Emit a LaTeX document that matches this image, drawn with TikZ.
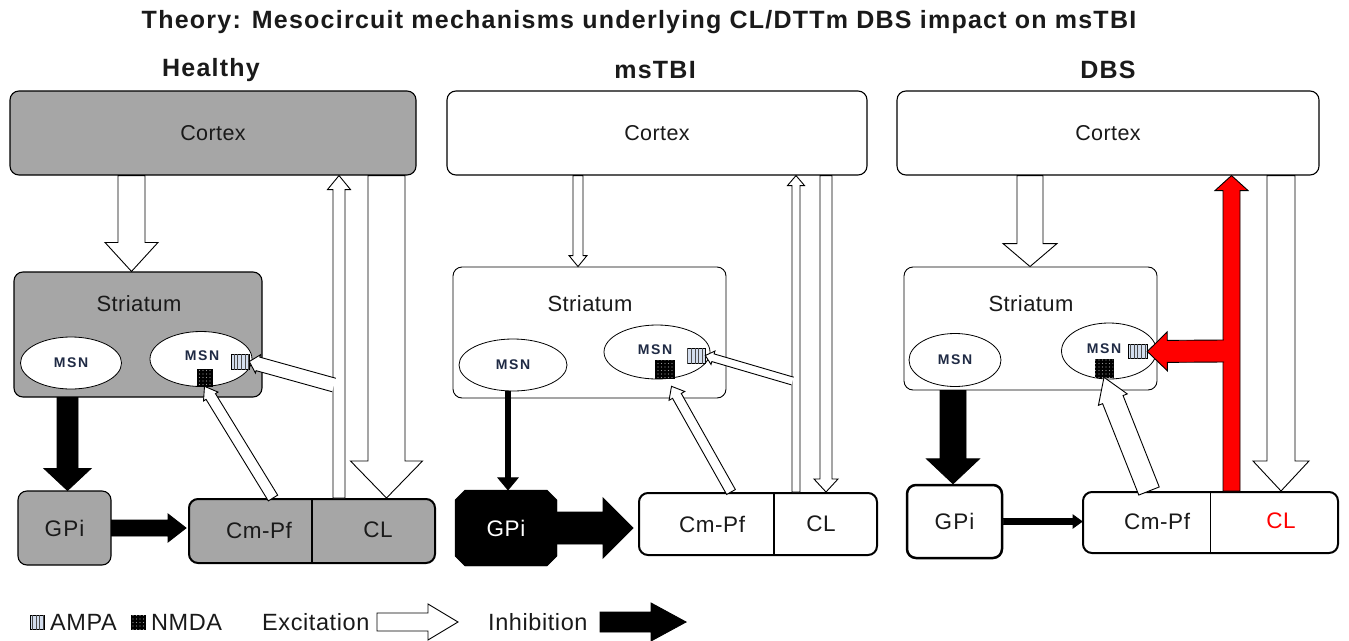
\documentclass[tikz,border=0pt]{standalone}
\usepackage{fontspec}
\setmainfont{Liberation Sans}
\usetikzlibrary{calc,shapes.geometric,shapes.misc,patterns.meta}
\newcommand\fsz[1]{\fontsize{#1}{#1}\selectfont}
\newcommand\lsp[1]{\addfontfeature{LetterSpace=#1}}
\definecolor{boxgray}{HTML}{A6A6A6}
\definecolor{txt}{HTML}{1A1A1A}
\definecolor{msnc}{HTML}{1F2A44}
\definecolor{ampac}{HTML}{D4DEEE}
% block arrow: [style]{from}{to}{shaft half width}{head half width}{head length}
\newcommand\barrow[6][]{%
  \coordinate (ba-A) at (#2);
  \coordinate (ba-B) at (#3);
  \coordinate (ba-H) at ($(ba-B)!#6!(ba-A)$);
  \draw[#1] ($(ba-A)!#4!90:(ba-B)$) -- ($(ba-H)!#4!-90:(ba-A)$) -- ($(ba-H)!#5!-90:(ba-A)$) -- (ba-B) -- ($(ba-H)!#5!90:(ba-A)$) -- ($(ba-H)!#4!90:(ba-A)$) -- ($(ba-A)!#4!-90:(ba-B)$) -- cycle;}
% same, open at its base (for branches)
\newcommand\obarrow[6][]{%
  \coordinate (ba-A) at (#2);
  \coordinate (ba-B) at (#3);
  \coordinate (ba-H) at ($(ba-B)!#6!(ba-A)$);
  \draw[#1] ($(ba-A)!#4!90:(ba-B)$) -- ($(ba-H)!#4!-90:(ba-A)$) -- ($(ba-H)!#5!-90:(ba-A)$) -- (ba-B) -- ($(ba-H)!#5!90:(ba-A)$) -- ($(ba-H)!#4!90:(ba-A)$) -- ($(ba-A)!#4!-90:(ba-B)$);}
\tikzset{
  box/.style={draw=black, rounded corners=9pt, line width=1.1pt, text=txt, font=\fsz{21.5}\lsp{2}},
  gbox/.style={box, fill=boxgray},
  wbox/.style={box, fill=white},
  thal/.style={line width=2pt},
  lbl/.style={text=txt, font=\fsz{22.5}\lsp{2.5}},
  ttl/.style={text=txt, font=\bfseries\fsz{25}\lsp{5}},
  leg/.style={text=txt, font=\fsz{23.5}\lsp{2.5}, inner sep=0pt},
  msn/.style={ellipse, draw=black, fill=white, line width=0.8pt, inner sep=0pt, text=msnc, font=\bfseries\fsz{14}\lsp{12}},
  msntxt/.style={text=msnc, font=\bfseries\fsz{14}\lsp{12}, inner sep=0pt},
  ampa/.style={draw=black, line width=0.6pt, fill=ampac, inner sep=0pt,
    postaction={pattern={Lines[angle=90,distance=3.6pt,line width=0.6pt]}, pattern color=black!70}},
  nmda/.style={draw=black, line width=0.6pt, fill=black, inner sep=0pt,
    postaction={pattern={Dots[radius=0.7pt,distance=3.5pt]}, pattern color=gray!80}},
  exc/.style={draw=black, fill=white, line width=0.9pt},
  inh/.style={draw=black, fill=black, line width=0.9pt},
  redarr/.style={draw=black, fill=red, line width=0.9pt},
}
\begin{document}
\begin{tikzpicture}[x=1pt,y=-1pt]
\useasboundingbox (0,0) rectangle (1349,640);
\fill[white] (0,0) rectangle (1349,640);

% titles
\node[ttl] (title) at (639,22) {Theory: Mesocircuit mechanisms underlying CL/DTTm DBS impact on msTBI};
\node[ttl] (tH) at (211,70) {Healthy};
\node[ttl] (tM) at (655,70) {msTBI};
\node[ttl] (tD) at (1108,70) {DBS};

% ================= Healthy =================
\node[gbox, minimum width=406pt, minimum height=84pt] (cortexH) at (213,133) {Cortex};
\node[gbox, minimum width=248pt, minimum height=125pt] (striH) at (138,334.5) {};
\node[lbl, font=\fsz{22}\lsp{2}] (striHt) at (139,304) {Striatum};
\node[msn, minimum width=101pt, minimum height=52pt] (msnH1) at (71,363) {MSN};
\node[msn, minimum width=102pt, minimum height=55pt] (msnH2) at (201,359) {};
\node[msntxt] (msnH2t) at (202,356) {MSN};
\node[gbox, minimum width=93pt, minimum height=74pt, font=\fsz{22.5}\lsp{5}] (gpiH) at (64.5,528) {GPi};
\node[gbox, thal, minimum width=246pt, minimum height=64pt] (thalH) at (312,531) {};
\draw[line width=2pt] (thalH.north) -- (thalH.south);
\node[lbl] (cmpfH) at (259,530) {Cm-Pf};
\node[lbl] (clH) at (378,530) {CL};

\barrow[exc]{131.5,0 |- cortexH.south}{131.5,0 |- striH.north}{13.5pt}{26.5pt}{29pt}
\barrow[inh]{67.5,0 |- striH.south}{67.5,0 |- gpiH.north}{10.5pt}{23.5pt}{22pt}
\barrow[inh]{gpiH.east}{186,0 |- gpiH.east}{8pt}{14pt}{18pt}
\barrow[exc]{339,0 |- thalH.north}{339,0 |- cortexH.south}{6pt}{11.5pt}{14pt}
\barrow[exc]{386.5,0 |- cortexH.south}{386.5,0 |- thalH.north}{18.5pt}{36pt}{37pt}
\node[ampa, minimum width=18pt, minimum height=15pt] (ampaH) at (240,361.5) {};
\node[nmda, minimum width=15pt, minimum height=17pt] (nmdaH) at (204.5,377.5) {};
\obarrow[exc]{334,385}{ampaH.east}{7pt}{9.5pt}{9pt}
\barrow[exc]{273,0 |- thalH.north}{nmdaH.south}{5.5pt}{8.5pt}{12pt}

% ================= msTBI =================
\node[wbox, minimum width=420pt, minimum height=84pt] (cortexM) at (657,133) {Cortex};
\node[wbox, line width=0.9pt, minimum width=273pt, minimum height=131pt] (striM) at (589.5,332.5) {};
\node[lbl, font=\fsz{22}\lsp{2}] (striMt) at (590,304) {Striatum};
\node[msn, minimum width=108pt, minimum height=52pt] (msnM1) at (513,365) {MSN};
\node[msn, minimum width=106pt, minimum height=54pt] (msnM2) at (657,352) {};
\node[msntxt] (msnM2t) at (655,350) {MSN};
\node[draw=black, fill=black, chamfered rectangle, chamfered rectangle xsep=5pt, chamfered rectangle ysep=5pt, inner sep=0pt,
      minimum width=102pt, minimum height=76pt, text=white, font=\fsz{22.5}\lsp{3}] (gpiM) at (506,528) {GPi};
\node[wbox, thal, minimum width=238pt, minimum height=62pt] (thalM) at (758,524) {};
\draw[line width=1.6pt] (774,0 |- thalM.north) -- (774,0 |- thalM.south);
\node[lbl] (cmpfM) at (712,524) {Cm-Pf};
\node[lbl] (clM) at (821,524) {CL};

\barrow[exc]{578,0 |- cortexM.south}{578,0 |- striM.north}{5pt}{9pt}{11pt}
\barrow[inh]{508,0 |- msnM1.south}{508,0 |- gpiM.north}{2.5pt}{10pt}{12pt}
\barrow[inh]{gpiM.east}{633,0 |- gpiM.east}{16pt}{30pt}{30pt}
\barrow[exc]{796,0 |- thalM.north}{796,0 |- cortexM.south}{4pt}{8.5pt}{10pt}
\barrow[exc]{826,0 |- cortexM.south}{826,0 |- thalM.north}{6pt}{12pt}{13pt}
\node[ampa, minimum width=18pt, minimum height=15pt] (ampaM) at (696,355.5) {};
\node[nmda, minimum width=19pt, minimum height=18pt] (nmdaM) at (664.5,369) {};
\obarrow[exc]{792.5,381}{ampaM.east}{4pt}{7pt}{8pt}
\coordinate (nmdaMtip) at ($(nmdaM.south)+(7,8)$);
\barrow[exc]{731,0 |- thalM.north}{nmdaMtip}{5pt}{9pt}{11pt}

% ================= DBS =================
\node[wbox, minimum width=422pt, minimum height=84pt] (cortexD) at (1108,133) {Cortex};
\node[wbox, line width=0.9pt, minimum width=253pt, minimum height=123pt] (striD) at (1030.5,328.5) {};
\node[lbl, font=\fsz{22}\lsp{2}] (striDt) at (1031,304) {Striatum};
\node[msn, minimum width=92pt, minimum height=53pt] (msnD1) at (955,360) {MSN};
\node[msn, minimum width=95pt, minimum height=56pt] (msnD2) at (1109,351) {};
\node[msntxt] (msnD2t) at (1104,349) {MSN};
\node[wbox, line width=2.5pt, minimum width=95pt, minimum height=73pt, font=\fsz{22.5}\lsp{5}] (gpiD) at (954.5,521.5) {GPi};
\node[wbox, thal, minimum width=255pt, minimum height=61pt] (thalD) at (1210.5,522.5) {};
\draw[line width=1pt] (1210,0 |- thalD.north) -- (1210,0 |- thalD.south);
\node[lbl] (cmpfD) at (1157,521) {Cm-Pf};
\node[lbl, text=red] (clD) at (1281,521) {CL};

\barrow[exc]{1030,0 |- cortexD.south}{1030,0 |- striD.north}{13pt}{27pt}{23pt}
\barrow[inh]{953,0 |- striD.south}{953,0 |- gpiD.north}{13pt}{26.5pt}{25pt}
\barrow[inh]{gpiD.east}{1082,0 |- gpiD.east}{3pt}{6.5pt}{9pt}
\barrow[exc]{1281,0 |- cortexD.south}{1281,0 |- thalD.north}{14pt}{28pt}{30pt}
\barrow[redarr]{1231.5,0 |- thalD.north}{1231.5,0 |- cortexD.south}{8.5pt}{16.5pt}{15pt}
\node[ampa, minimum width=19pt, minimum height=14pt] (ampaD) at (1137.5,351.5) {};
\node[nmda, minimum width=18pt, minimum height=18pt] (nmdaD) at (1104,368) {};
\obarrow[redarr]{1224,351}{ampaD.east}{11pt}{19.5pt}{20pt}
\barrow[exc]{1149,0 |- thalD.north}{nmdaD.south}{11pt}{15.5pt}{24pt}

% ================= legend =================
\node[ampa, minimum width=14pt, minimum height=14pt] (ampaL) at (37,622) {};
\node[leg, anchor=west] (ampaLt) at (50,622) {AMPA};
\node[nmda, minimum width=14pt, minimum height=14pt] (nmdaL) at (138,622) {};
\node[leg, anchor=west] (nmdaLt) at (151,622) {NMDA};
\node[leg, anchor=west] (excLt) at (262,622) {Excitation};
\coordinate (excA) at (377,622);
\coordinate (excB) at (458,622);
\barrow[exc]{excA}{excB}{9pt}{18pt}{30pt}
\node[leg, anchor=west] (inhLt) at (488,622) {Inhibition};
\coordinate (inhA) at (600,622);
\coordinate (inhB) at (686,622);
\barrow[inh]{inhA}{inhB}{10pt}{19pt}{35pt}
\end{tikzpicture}
\end{document}
